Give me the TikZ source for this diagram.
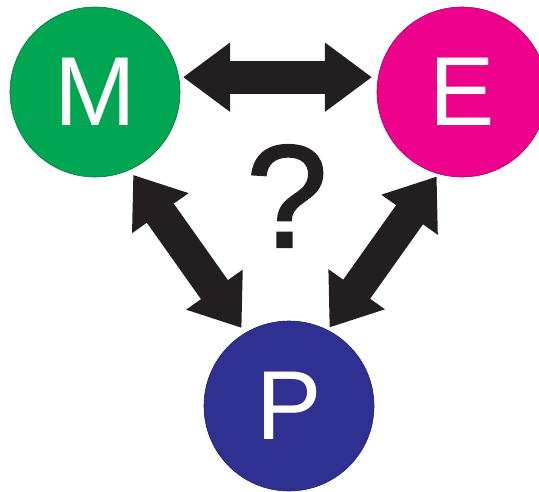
\documentclass[tikz,border=0pt]{standalone}
\usepackage{fontspec}
\setmainfont{Liberation Sans}
\newfontfamily\qfont[FakeBold=1.6]{Liberation Sans}
\usetikzlibrary{arrows.meta}
\definecolor{mgreen}{HTML}{00A651}
\definecolor{emag}{HTML}{EC008C}
\definecolor{pblue}{HTML}{2E3192}
\definecolor{arrowc}{HTML}{231F20}
\begin{document}
\begin{tikzpicture}[x=1pt,y=-1pt,
  ball/.style={circle, minimum size=170pt, inner sep=0pt, text=white,
    font=\fontsize{98}{98}\selectfont, line width=0.6pt},
  dbl/.style={draw=arrowc, line width=33pt, line cap=butt,
    {Triangle[length=47pt,width=66pt]}-{Triangle[length=47pt,width=66pt]}}]
\useasboundingbox (0,0) rectangle (539,491);
\node[ball, fill=mgreen, draw=mgreen!70!black] (M) at (95,92) {M};
\node[ball, fill=emag, draw=emag!70!black] (E) at (462,92) {E};
\node[ball, fill=pblue, draw=pblue!70!black] (P) at (289,406) {P};
\node[text=arrowc, font=\qfont\fontsize{146}{146}\selectfont, anchor=base, inner sep=0pt] (Q) at (287,247) {?};
\draw[dbl, shorten <=4pt, shorten >=6pt] (M.10) -- (E.170);
\draw[dbl, shorten <=6pt, shorten >=6pt] (M.-66) -- (P.121);
\draw[dbl, shorten <=3pt, shorten >=3pt] (E.-106) -- (P.63);
\end{tikzpicture}
\end{document}
